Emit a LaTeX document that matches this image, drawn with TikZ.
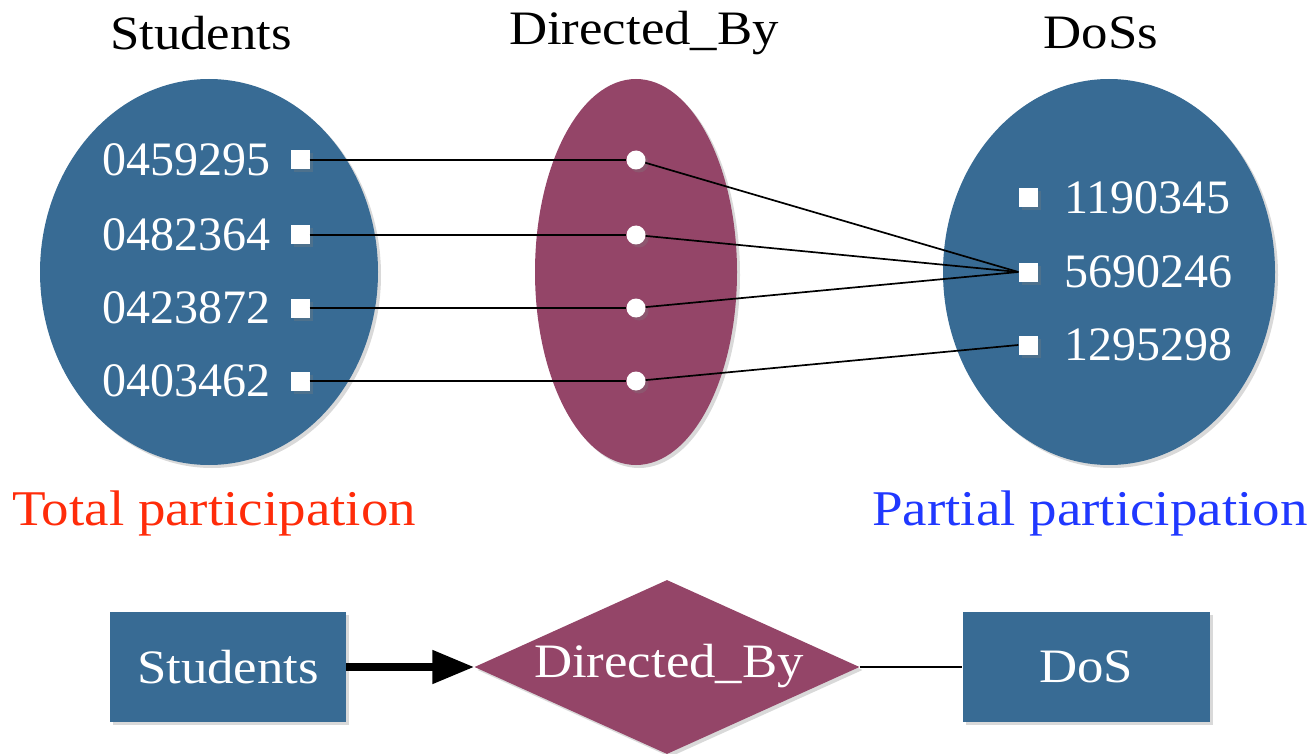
\documentclass[tikz,border=0pt]{standalone}
\usepackage{fontspec}
\setmainfont{Liberation Serif}
\newfontfamily\wordfont[FakeStretch=1.1]{Liberation Serif}
\usetikzlibrary{shapes.geometric,shadows,arrows.meta}
\definecolor{entblue}{RGB}{56,107,148}
\definecolor{relpurple}{RGB}{148,69,104}
\definecolor{totred}{RGB}{255,44,10}
\definecolor{partblue}{RGB}{32,56,255}
\tikzset{
  shade/.style={drop shadow={shadow xshift=3pt,shadow yshift=-3pt,opacity=0.3}},
  setblob/.style={ellipse,fill=#1,shade,inner sep=0pt},
  member/.style={rectangle,fill=white,minimum size=19pt,inner sep=0pt,shade},
  pair/.style={circle,fill=white,minimum size=19pt,inner sep=0pt,shade},
  lbl/.style={text=white,font=\fontsize{48}{54}\selectfont,inner sep=0pt},
  head/.style={text=black,font=\wordfont\fontsize{48}{54}\selectfont,inner sep=0pt},
  note/.style={text=#1,font=\wordfont\fontsize{50}{56}\selectfont,inner sep=0pt},
  entbox/.style={rectangle,fill=entblue,shade,text=white,font=\wordfont\fontsize{48}{54}\selectfont,
    minimum width=236pt,minimum height=110pt,inner sep=0pt},
  link/.style={line width=1.7pt},
}
\begin{document}
\begin{tikzpicture}[x=1pt,y=-1pt]
\useasboundingbox (0,0) rectangle (1312,754);

% entity and relationship sets
\node[setblob=entblue,minimum width=338pt,minimum height=386pt] (stu) at (209,272) {};
\node[setblob=relpurple,minimum width=202pt,minimum height=386pt] (rel) at (636,272) {};
\node[setblob=entblue,minimum width=332pt,minimum height=386pt] (dos) at (1109,272) {};

\node[head] (tstu) at (201,33) {Students};
\node[head] (trel) at (644,33) {Directed\_By};
\node[head] (tdos) at (1101,33) {DoSs};

% student members
\foreach \i/\y/\id in {1/160/0459295,2/235/0482364,3/308/0423872,4/381/0403462}{
  \node[member] (s\i) at (300,\y) {};
  \node[lbl,anchor=east] (ls\i) at (271,\y) {\id};
  \node[pair] (d\i) at (636,\y) {};
}

% DoS members
\foreach \i/\y/\id in {1/198/1190345,2/272/5690246,3/345/1295298}{
  \node[member] (t\i) at (1028,\y) {};
  \node[lbl,anchor=west] (lt\i) at (1064,\y) {\id};
}

\foreach \i in {1,...,4}{ \draw[link] (s\i.east) -- (d\i); }
\draw[link] (d1) -- (t2.west);
\draw[link] (d2) -- (t2.west);
\draw[link] (d3) -- (t2.west);
\draw[link] (d4) -- (t3.west);

\node[note=totred] (tot) at (214,513) {Total participation};
\node[note=partblue] (part) at (1090,513) {Partial participation};

% ER diagram
\node[entbox] (estu) at (228,667) {Students};
\node[diamond,fill=relpurple,shade,minimum width=385pt,minimum height=174pt,inner sep=0pt] (erel) at (667,667) {};
\node[text=white,font=\wordfont\fontsize{48}{54}\selectfont,inner sep=0pt] (erell) at (669,666) {Directed\_By};
\node[entbox,minimum width=247pt] (edos) at (1086,667) {DoS};

\draw[line width=8pt,-{Triangle[length=42pt,width=32pt]}] (estu.east) -- (erel.west);
\draw[link] (erel.east) -- (edos.west);
\end{tikzpicture}
\end{document}
